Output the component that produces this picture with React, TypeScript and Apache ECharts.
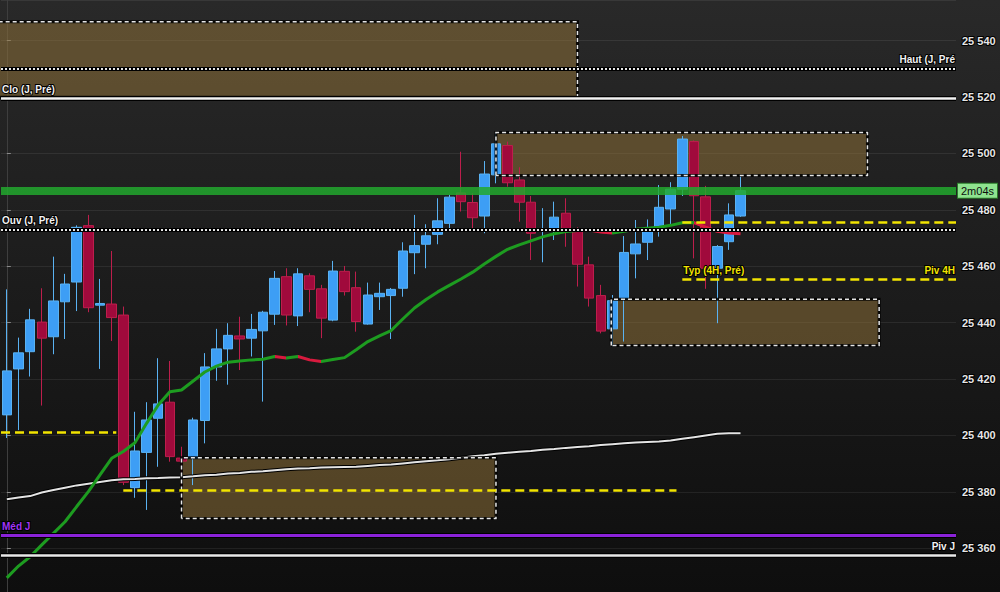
import { useEffect, useRef } from 'react';
import * as echarts from 'echarts';

const FONT = '"Liberation Sans", Arial, Helvetica, sans-serif';

// ---------- data ----------
const categories: string[] = Array.from({ length: 82 }, (_, i) => String(i + 1));

const opens = [
  25407.3, 25423.6, 25429.7, 25440.2, 25435.0, 25447.4, 25454.4, 25474.4, 25446.2, 25446.6,
  25442.7, 25381.5, 25394.0, 25406.1, 25411.8, 25392.0, 25391.9, 25405.3, 25424.3, 25430.7,
  25435.3, 25434.5, 25437.1, 25443.0, 25456.3, 25442.4, 25456.6, 25452.0, 25440.9, 25458.2,
  25452.4, 25439.5, 25449.2, 25449.6, 25452.2, 25464.8, 25467.8, 25471.3, 25475.2, 25486.0,
  25482.6, 25477.8, 25492.4, 25502.8, 25490.6, 25482.7, 25472.6, 25473.1, 25478.8, 25472.3,
  25460.5, 25449.6, 25437.8, 25448.4, 25464.4, 25468.5, 25473.8, 25480.3, 25487.3, 25504.2,
  25484.6, 25459.3, 25468.7, 25477.8,
];
const closes = [
  25422.9, 25429.3, 25441.0, 25434.5, 25447.7, 25453.7, 25473.8, 25445.3, 25446.8, 25441.8,
  25383.4, 25394.5, 25405.5, 25411.2, 25392.5, 25390.9, 25405.5, 25424.3, 25430.7, 25435.5,
  25434.2, 25437.6, 25443.7, 25455.7, 25442.7, 25457.3, 25451.8, 25441.6, 25458.3, 25451.0,
  25440.4, 25449.8, 25450.4, 25451.8, 25465.4, 25467.3, 25470.8, 25476.1, 25484.5, 25482.9,
  25477.2, 25492.7, 25503.4, 25489.6, 25482.7, 25471.7, 25473.3, 25477.4, 25472.9, 25460.7,
  25448.7, 25437.0, 25447.8, 25464.9, 25467.9, 25472.5, 25480.9, 25487.3, 25505.1, 25485.0,
  25459.3, 25467.0, 25478.2, 25486.8,
];
const lows = [
  25399.1, 25401.9, 25420.9, 25410.6, 25428.8, 25434.2, 25444.1, 25443.7, 25423.6, 25433.5,
  25382.4, 25377.9, 25373.6, 25388.9, 25390.7, 25376.0, 25382.4, 25397.2, 25419.4, 25418.0,
  25423.2, 25428.0, 25412.0, 25439.2, 25439.0, 25438.8, 25443.7, 25434.5, 25440.5, 25449.6,
  25436.8, 25439.3, 25444.5, 25434.2, 25449.2, 25457.2, 25459.3, 25467.8, 25473.5, 25479.4,
  25472.3, 25471.7, 25489.4, 25488.2, 25475.8, 25462.2, 25461.4, 25469.3, 25466.9, 25452.8,
  25445.7, 25436.2, 25431.5, 25433.3, 25455.7, 25462.2, 25470.5, 25475.0, 25484.9, 25462.8,
  25452.0, 25439.8, 25465.8, 25477.5,
];
const highs = [
  25451.8, 25434.7, 25444.9, 25452.2, 25463.4, 25457.3, 25474.5, 25478.2, 25455.5, 25465.4,
  25445.7, 25408.4, 25411.8, 25427.4, 25426.4, 25396.0, 25406.3, 25429.2, 25437.8, 25439.8,
  25442.1, 25443.1, 25444.2, 25458.3, 25459.3, 25459.3, 25457.5, 25453.4, 25461.9, 25460.1,
  25458.1, 25454.2, 25454.2, 25452.3, 25468.5, 25478.2, 25474.9, 25484.1, 25485.3, 25500.6,
  25485.9, 25497.3, 25507.2, 25504.2, 25495.1, 25484.9, 25480.6, 25482.9, 25484.1, 25473.8,
  25463.4, 25453.4, 25449.8, 25470.7, 25476.4, 25476.6, 25488.8, 25489.8, 25506.2, 25504.6,
  25488.5, 25467.5, 25482.3, 25492.1,
];

const maFast = [
  25349.5, 25353.7, 25357.0, 25361.2, 25365.3, 25369.4, 25374.8, 25380.1, 25386.0, 25391.9,
  25394.3, 25397.4, 25404.3, 25410.8, 25415.5, 25416.1, 25419.3, 25422.5, 25424.6, 25426.0,
  25426.4, 25426.8, 25427.0, 25428.0, 25427.5, 25428.0, 25426.8, 25426.2, 25426.9, 25427.6,
  25430.4, 25433.3, 25435.3, 25437.2, 25441.3, 25445.2, 25448.2, 25450.9, 25453.2, 25455.5,
  25457.9, 25460.8, 25463.5, 25466.0, 25467.6, 25469.0, 25470.4, 25471.5, 25472.3, 25472.7,
  25472.8, 25472.1, 25471.8, 25472.4, 25473.1, 25473.5, 25473.8, 25474.5, 25475.4, 25475.5,
  25473.9, 25472.4, 25471.8, 25471.5,
];
// index runs (0-based) where the fast average is falling (drawn red)
const fallStart = [23, 25, 50, 59];
const fallEnd = [24, 27, 52, 63];

const maSlow = [
  25377.4, 25378.0, 25378.5, 25379.8, 25380.7, 25381.5, 25382.3, 25382.9, 25383.5, 25384.1,
  25384.5, 25384.6, 25384.8, 25384.9, 25385.1, 25385.2, 25385.5, 25385.9, 25386.1, 25386.5,
  25386.7, 25387.1, 25387.3, 25387.7, 25388.0, 25388.3, 25388.4, 25388.6, 25388.7, 25388.8,
  25388.9, 25389.2, 25389.5, 25389.7, 25390.1, 25390.5, 25390.9, 25391.2, 25391.6, 25392.1,
  25392.6, 25393.0, 25393.5, 25393.9, 25394.2, 25394.5, 25394.9, 25395.2, 25395.6, 25395.9,
  25396.2, 25396.6, 25396.9, 25397.2, 25397.5, 25397.7, 25397.9, 25398.2, 25398.8, 25399.4,
  25400.0, 25400.6, 25400.8, 25400.8,
];

// zones: bar-index span and price span
const zoneFrom = [-3, 42, 51.9, 15];
const zoneTo = [49, 73.9, 74.9, 42];
const zoneTop = [25546.7, 25507.4, 25448.3, 25392.1];
const zoneBottom = [25519.9, 25492.2, 25431.9, 25370.6];

// horizontal levels
const levelKeys = ['haut', 'clo', 'prix', 'ouv', 'jaune', 'piv4h', 'jaune', 'jaune', 'med', 'pivj'];
const levelPrices = [25530.0, 25519.4, 25486.8, 25473.1, 25475.5, 25455.4, 25401.3, 25380.4, 25364.5, 25357.6];
const levelFrom = [-0.5, -0.5, -0.5, -0.5, 58, 58, -0.5, 10, -0.5, -0.5];
const levelTo = [81.5, 81.5, 81.5, 81.5, 81.5, 81.5, 9.4, 57.5, 81.5, 81.5];
const levelStartLabels = ['', 'Clo (J, Pré)', '', 'Ouv (J, Pré)', '', 'Typ (4H, Pré)', '', '', 'Méd J', ''];
const levelEndLabels = ['Haut (J, Pré', '', '2m04s', '', '', 'Piv 4H', '', '', '', 'Piv J'];

const yMin = 25344.5;
const yMax = 25554.4;
const yStep = 20;
const xMin = -0.5;
const xMax = 81.5;

// ---------- styles ----------
const YELLOW = '#f2e400';
const styles: Record<string, any> = {
  haut: { line: { color: '#e8e8e8', width: 2, type: [2, 2] }, under: { color: '#000', width: 4, type: 'solid' }, text: '#f2f2f2' },
  ouv: { line: { color: '#e8e8e8', width: 2, type: [2, 2] }, under: { color: '#000', width: 4, type: 'solid' }, text: '#f2f2f2' },
  clo: { line: { color: '#f2f2f2', width: 2.5, type: 'solid' }, under: { color: '#000', width: 5, type: 'solid' }, text: '#f2f2f2' },
  pivj: { line: { color: '#e8e8e8', width: 2.5, type: 'solid' }, under: { color: '#000', width: 5, type: 'solid' }, text: '#f2f2f2' },
  med: { line: { color: '#8a22d8', width: 3, type: 'solid' }, under: { color: '#000', width: 5, type: 'solid' }, text: '#a035f5' },
  prix: { line: { color: 'rgba(34,168,46,0.85)', width: 8, type: 'solid' }, under: null, text: '#111' },
  jaune: { line: { color: YELLOW, width: 2.5, type: [9, 5] }, under: null, text: YELLOW },
  piv4h: { line: { color: YELLOW, width: 2.5, type: [9, 5] }, under: null, text: YELLOW },
};

const labelText = {
  fontFamily: FONT,
  fontWeight: 'bold' as const,
  fontSize: 10,
  textBorderColor: '#000',
  textBorderWidth: 2,
};

function buildLevels(under: boolean) {
  const out: any[] = [];
  levelKeys.forEach((key, i) => {
    const st = styles[key];
    if (under) {
      if (!st.under) return;
      out.push([
        { coord: [levelFrom[i], levelPrices[i]], lineStyle: { ...st.under } },
        { coord: [levelTo[i], levelPrices[i]] },
      ]);
      return;
    }
    const startLbl = levelStartLabels[i];
    const endLbl = levelEndLabels[i];
    let endLabel: any = { show: false };
    if (endLbl && key === 'prix') {
      endLabel = {
        show: true,
        position: 'end',
        formatter: endLbl,
        distance: 2,
        fontFamily: FONT,
        fontSize: 11,
        color: '#0d0d0d',
        backgroundColor: '#8fe38f',
        borderColor: '#2a7a2a',
        borderWidth: 1,
        padding: [2, 3, 1, 3],
      };
    } else if (endLbl) {
      endLabel = { show: true, position: 'insideEndTop', formatter: endLbl, distance: [1, 4], color: st.text, ...labelText };
    }
    out.push([
      { coord: [levelFrom[i], levelPrices[i]], lineStyle: { ...st.line }, label: endLabel },
      { coord: [levelTo[i], levelPrices[i]] },
    ]);
    if (startLbl) {
      out.push([
        {
          coord: [levelFrom[i], levelPrices[i]],
          lineStyle: { color: 'rgba(0,0,0,0)', width: 1, type: 'solid' },
          label: { show: true, position: 'insideStartTop', formatter: startLbl, distance: [1, 4], color: st.text, ...labelText },
        },
        { coord: [levelTo[i], levelPrices[i]] },
      ]);
    }
  });
  return out;
}

const candleData = opens.map((o, i) => [o, closes[i], lows[i], highs[i]]);
const zoneData = zoneFrom.map((f, i) => [f, zoneTo[i], zoneTop[i], zoneBottom[i]]);

function zoneCorners(api: any) {
  const a = api.coord([Math.max(api.value(0), xMin - 0.2), api.value(2)]);
  const b = api.coord([Math.min(api.value(1), xMax), api.value(3)]);
  return { a, b };
}

const fmtPrice = (v: number) => String(v).replace(/\B(?=(\d{3})+(?!\d))/g, ' ');

const option: any = {
  animation: false,
  backgroundColor: new echarts.graphic.LinearGradient(0, 0, 0, 1, [
    { offset: 0, color: '#292929' },
    { offset: 1, color: '#0e0e0e' },
  ]),
  grid: { left: 1, right: 44, top: 0, bottom: 0, containLabel: false },
  xAxis: [
    { type: 'category', data: categories, boundaryGap: true, show: false },
    { type: 'value', min: xMin, max: xMax, show: false },
  ],
  yAxis: {
    type: 'value',
    position: 'right',
    min: yMin,
    max: yMax,
    splitNumber: 10,
    minInterval: yStep,
    maxInterval: yStep,
    axisLine: { show: true, lineStyle: { color: '#3e3e3e', width: 1 } },
    axisTick: { show: true, length: 4, lineStyle: { color: '#8a8a8a' } },
    axisLabel: {
      color: '#e6e6e6',
      fontFamily: FONT,
      fontWeight: 'bold',
      fontSize: 11,
      margin: 6,
      showMinLabel: false,
      showMaxLabel: false,
      textBorderColor: '#000',
      textBorderWidth: 2,
      formatter: fmtPrice,
    },
    splitLine: { show: true, lineStyle: { color: 'rgba(255,255,255,0.075)', width: 1 } },
  },
  visualMap: {
    type: 'piecewise',
    show: false,
    dimension: 0,
    seriesIndex: 4,
    pieces: fallStart.map((s, i) => ({ gte: s, lte: fallEnd[i], color: '#d81a3e' })),
    outOfRange: { color: '#1d9c20' },
  },
  series: [
    {
      type: 'custom',
      name: 'zonesFill',
      xAxisIndex: 1,
      yAxisIndex: 0,
      z: 1,
      clip: false,
      silent: true,
      encode: { x: [0, 1], y: [2, 3] },
      data: zoneData,
      renderItem: (_p: any, api: any) => {
        const { a, b } = zoneCorners(api);
        return {
          type: 'rect',
          shape: { x: a[0], y: a[1], width: b[0] - a[0], height: b[1] - a[1] },
          style: { fill: 'rgba(150,118,58,0.5)' },
        };
      },
    },
    {
      type: 'candlestick',
      name: 'prix',
      xAxisIndex: 0,
      z: 2,
      barWidth: 10,
      data: candleData,
      itemStyle: {
        color: '#3d9ef5',
        color0: '#a00a3c',
        borderColor: '#5ab2f2',
        borderColor0: '#bd1e4c',
        borderWidth: 1,
      },
    },
    {
      type: 'line',
      name: 'maSlowUnder',
      xAxisIndex: 0,
      z: 3,
      data: maSlow,
      showSymbol: false,
      silent: true,
      lineStyle: { color: '#000', width: 4 },
    },
    {
      type: 'line',
      name: 'maSlow',
      xAxisIndex: 0,
      z: 3,
      data: maSlow,
      showSymbol: false,
      silent: true,
      lineStyle: { color: '#e4e4e4', width: 2 },
    },
    {
      type: 'line',
      name: 'maFast',
      xAxisIndex: 0,
      z: 3,
      data: maFast,
      showSymbol: false,
      silent: true,
      lineStyle: { width: 3 },
    },
    {
      type: 'custom',
      name: 'zonesBorder',
      xAxisIndex: 1,
      yAxisIndex: 0,
      z: 4,
      clip: false,
      silent: true,
      encode: { x: [0, 1], y: [2, 3] },
      data: zoneData,
      renderItem: (_p: any, api: any) => {
        const { a, b } = zoneCorners(api);
        const leftVisible = api.value(0) >= xMin;
        const pts = leftVisible
          ? [[a[0], b[1]], [a[0], a[1]], [b[0], a[1]], [b[0], b[1]], [a[0], b[1]]]
          : [[a[0], a[1]], [b[0], a[1]], [b[0], b[1]], [a[0], b[1]]];
        return {
          type: 'group',
          children: [
            { type: 'polyline', shape: { points: pts }, style: { fill: 'none', stroke: 'rgba(0,0,0,0.85)', lineWidth: 3 } },
            { type: 'polyline', shape: { points: pts }, style: { fill: 'none', stroke: '#e6e6e6', lineWidth: 1.5, lineDash: [4, 3] } },
          ],
        };
      },
    },
    {
      type: 'line',
      name: 'levelsUnder',
      xAxisIndex: 1,
      z: 5,
      data: [],
      silent: true,
      markLine: {
        silent: true,
        symbol: ['none', 'none'],
        label: { show: false },
        data: buildLevels(true),
      },
    },
    {
      type: 'line',
      name: 'levels',
      xAxisIndex: 1,
      z: 6,
      data: [],
      silent: true,
      markLine: {
        silent: true,
        symbol: ['none', 'none'],
        label: { show: false },
        data: buildLevels(false),
      },
    },
  ],
};

export default function App() {
  const ref = useRef<HTMLDivElement>(null);
  useEffect(() => {
    if (!ref.current) return;
    const chart = echarts.init(ref.current, null, { renderer: 'svg' });
    chart.setOption(option);
    return () => chart.dispose();
  }, []);
  return (
    <div style={{ position: 'fixed', left: 0, top: 0, width: 1000, height: 592, background: '#1b1b1b' }}>
      <div ref={ref} style={{ width: 1000, height: 592 }} />
    </div>
  );
}
